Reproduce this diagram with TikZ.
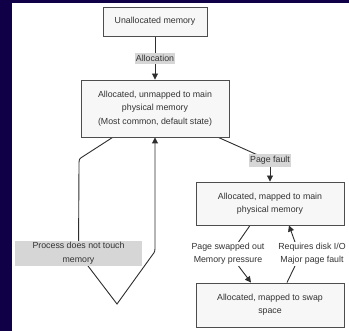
\documentclass[tikz,border=0pt]{standalone}
\usepackage{fontspec}
\setmainfont{Liberation Sans}
\usetikzlibrary{arrows.meta,shadows}
\definecolor{navy}{RGB}{16,0,72}
\definecolor{ink}{HTML}{333333}
\definecolor{edgeink}{HTML}{2E2E2E}
\definecolor{boxfill}{HTML}{F7F7F7}
\definecolor{boxline}{HTML}{4D4D4D}
\definecolor{tagfill}{HTML}{D6D6D6}
\pgfdeclarelayer{bg}
\pgfdeclarelayer{edges}
\pgfsetlayers{bg,edges,main}
\tikzset{
  txt/.style={text=ink, font=\fontsize{8.8}{13.3}\selectfont, align=center},
  state/.style={txt, draw=boxline, line width=0.9pt, fill=boxfill, inner sep=0pt,
    minimum width=148pt,
    drop shadow={shadow xshift=1pt, shadow yshift=-1pt, fill=black!22, opacity=1}},
  tag/.style={txt, fill=tagfill, inner xsep=1.2pt, inner ysep=2pt},
  plaintag/.style={txt, fill=white, inner xsep=1pt, inner ysep=1pt},
  flow/.style={draw=edgeink, line width=0.9pt},
  tip/.style={-{Triangle[length=6pt,width=6pt]}}
}
\begin{document}
\begin{tikzpicture}[x=1pt, y=-1pt]
\useasboundingbox (0,0) rectangle (349,331);
\begin{pgfonlayer}{bg}
  \fill[navy] (0,0) rectangle (349,331);
  \fill[white] (12,3) rectangle (349,331);
\end{pgfonlayer}

% states
\node[state, minimum width=104pt, minimum height=29pt] (n1) at (155,21.5) {Unallocated memory};
\node[state, minimum height=57pt] (n2) at (155,108.5)
  {Allocated, unmapped to main\\physical memory\\(Most common, default state)};
\node[state, minimum height=43pt] (n3) at (270,203.5)
  {Allocated, mapped to main\\physical memory};
\node[state, minimum height=44pt] (n4) at (270,305)
  {Allocated, mapped to swap\\space};

% edge labels
\node[tag] (alloc) at (155,58.5) {Allocation};
\node[tag] (fault) at (270,160.5) {Page fault};
\node[tag, minimum width=127pt, minimum height=25pt, inner ysep=0pt,
  font=\fontsize{8.8}{14}\selectfont] (idle) at (78.5,253.5)
  {Process does not touch\\memory};
\node[plaintag] (swapout) at (228,254) {Page swapped out\\Memory pressure};
\node[plaintag] (swapin) at (312,254) {Requires disk I/O\\Major page fault};

\begin{pgfonlayer}{edges}
  % allocation
  \draw[flow] (n1) -- (alloc);
  \draw[flow, tip] (alloc) -- (n2);
  % untouched pages loop back to the same state
  \draw[flow] ([xshift=32pt]n2.south west) -- (83,156.5)
    .. controls (79,159) .. (79,165) -- (idle.center);
  \draw[flow, tip] (idle.center) -- (117,304) -- (152,255.5)
    .. controls (155,251.5) .. (155,246) -- (n2.south);
  % first touch
  \draw[flow] ([xshift=-11pt]n2.south east) -- (fault.center);
  \draw[flow, tip] (fault) -- (n3);
  % swap out
  \draw[flow, tip] ([xshift=-20pt]n3.south) -- ([xshift=10.5pt]swapout.north)
    -- ([xshift=10.5pt]swapout.south) -- ([xshift=-19pt]n4.north);
  % swap in
  \draw[flow, tip] ([xshift=17pt]n4.north) -- ([xshift=-17pt]swapin.south)
    -- ([xshift=-17pt]swapin.north) -- ([xshift=19pt]n3.south);
\end{pgfonlayer}
\end{tikzpicture}
\end{document}
